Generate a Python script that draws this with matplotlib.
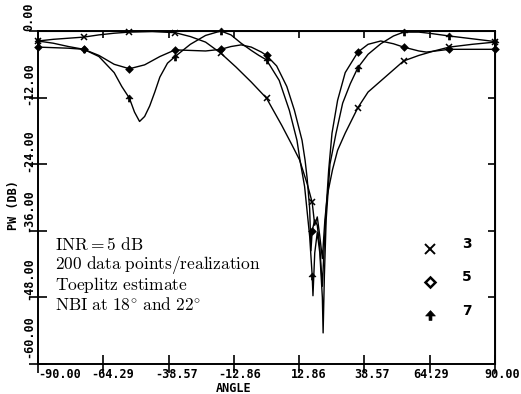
import numpy as np
import matplotlib
matplotlib.use("Agg")
import matplotlib.pyplot as plt
from matplotlib.path import Path

plt.rcParams['mathtext.fontset'] = 'cm'

# ---- data (angle in degrees, PW in dB) ----
ang3 = [-90, -84, -78, -72, -66, -60, -54, -45, -36, -30, -24, -18, -12, -6, 0,
        6, 10, 13, 16, 18, 19, 20, 21, 22, 23, 24, 26, 28, 31, 36, 40, 45, 50,
        54, 60, 66, 72, 81, 90]
pw3 = [-1.8, -1.5, -1.3, -1.1, -0.7, -0.4, -0.2, -0.1, -0.3, -1.0, -2.0, -4.0,
       -6.5, -9.2, -12.1, -17.0, -20.5, -23.2, -27.5, -30.9, -35.0, -33.5,
       -37.0, -41.0, -34.0, -29.5, -25.0, -21.5, -18.4, -13.8, -11.0, -9.0,
       -7.0, -5.4, -4.4, -3.6, -2.9, -2.4, -2.0]

ang5 = [-90, -84, -78, -72, -66, -60, -54, -48, -42, -36, -30, -24, -18, -14,
        -10, -6, -2, 0, 4, 8, 11, 14, 15.2, 16, 17, 17.5, 18, 19, 20, 21, 22,
        22.6, 23.5, 24.5, 25.8, 28, 31, 36, 40, 45, 50, 54, 60, 63, 72, 81, 90]
pw5 = [-2.9, -3.0, -3.1, -3.3, -4.4, -6.0, -6.8, -6.1, -4.6, -3.4, -3.5, -3.6,
       -3.3, -2.8, -2.5, -2.9, -3.8, -4.4, -6.3, -10.0, -14.3, -19.7, -23.3,
       -26.5, -32.0, -39.6, -36.0, -34.0, -35.0, -39.0, -46.0, -40.0, -32.0,
       -25.0, -18.4, -12.5, -7.5, -3.8, -2.4, -1.8, -2.3, -2.9, -3.6, -3.8,
       -3.3, -3.3, -3.3]

ang7 = [-90, -84, -78, -72, -66, -60, -57, -54, -52, -50, -48, -46, -44, -42,
        -39, -36, -30, -24, -18, -14, -10, -6, -3, 0, 5, 9, 12, 13.2, 15, 17,
        18, 18.3, 19, 20, 21, 22, 22.3, 22.8, 23.5, 25, 27.4, 30, 33, 36, 40,
        45, 50, 54, 60, 64, 72, 81, 90]
pw7 = [-1.8, -2.2, -2.8, -3.3, -4.6, -7.5, -10.0, -12.1, -14.6, -16.3, -15.4,
       -13.5, -11.0, -8.3, -5.8, -4.6, -2.4, -0.8, 0.0, -0.7, -2.2, -3.5, -4.4,
       -5.2, -8.9, -14.3, -19.7, -23.3, -28.0, -37.0, -44.1, -47.7, -40.0,
       -36.3, -40.0, -48.0, -54.4, -44.0, -34.0, -24.0, -18.4, -13.0, -9.5,
       -6.6, -4.2, -2.3, -0.9, -0.2, -0.2, -0.4, -0.9, -1.4, -1.9]

xticks = [-90.00, -64.29, -38.57, -12.86, 12.86, 38.57, 64.29, 90.00]
xtick_labels = ['-90.00', '-64.29', '-38.57', '-12.86', '12.86', '38.57', '64.29', '90.00']
yticks = [0, -12, -24, -36, -48, -60]
ytick_labels = ['0.00', '-12.00', '-24.00', '-36.00', '-48.00', '-60.00']

legend_names = ['3', '5', '7']
notes = [r'$\mathrm{INR} = 5\ \mathrm{dB}$',
         r'$\mathrm{200\ data\ points/realization}$',
         r'$\mathrm{Toeplitz\ estimate}$',
         r'$\mathrm{NBI\ at\ 18^{\circ}\ and\ 22^{\circ}}$']

# arrow-like filled marker for the "7" curve
arrow = Path([(0, 1), (1, -0.1), (0.3, -0.1), (0.3, -1), (-0.3, -1),
              (-0.3, -0.1), (-1, -0.1), (0, 1)],
             [Path.MOVETO] + [Path.LINETO] * 6 + [Path.CLOSEPOLY])

W, H = 521, 394
fig = plt.figure(figsize=(W / 100, H / 100), dpi=100)
ax = fig.add_axes([38 / W, 1 - 364 / H, (495 - 38) / W, (364 - 31) / H])

styles = [
    dict(marker='x', ms=5, mew=1.1, mfc='black'),
    dict(marker='D', ms=3.2, mew=1.2, mfc='black'),
    dict(marker=arrow, ms=5, mew=0.5, mfc='black'),
]
legend_styles = [
    dict(marker='x', ms=7, mew=1.4, mfc='black'),
    dict(marker='D', ms=5, mew=1.8, mfc='white'),
    dict(marker=arrow, ms=7, mew=0.5, mfc='black'),
]

for ang, pw, st in zip([ang3, ang5, ang7], [pw3, pw5, pw7], styles):
    a = np.array(ang)
    p = np.array(pw)
    ax.plot(a, p, color='black', lw=1.0, clip_on=False, zorder=3)
    sel = np.isclose(np.mod(a, 18), 0) | np.isclose(np.mod(a, 18), 18)
    ax.plot(a[sel], p[sel], ls='none', color='black', mec='black',
            clip_on=False, zorder=4, **st)

ax.set_xlim(-90, 90)
ax.set_ylim(-60, 0)
for s in ax.spines.values():
    s.set_linewidth(1.4)

ax.set_xticks(xticks)
ax.set_yticks(yticks)
ax.set_xticklabels([])
ax.set_yticklabels([])
ax.tick_params(direction='inout', length=13, width=1.2)

top = ax.secondary_xaxis('top')
top.set_xticks(xticks[1:-1])
top.set_xticklabels([])
top.tick_params(direction='in', length=5, width=1.2)
right = ax.secondary_yaxis('right')
right.set_yticks(yticks[1:-1])
right.set_yticklabels([])
right.tick_params(direction='in', length=5, width=1.2)

tick_font = dict(family='DejaVu Sans Mono', fontsize=8.5, fontweight='bold')
px = 0.72  # points per pixel at 100 dpi

x_shift = [0, 9, 8, 6, 10, 8, 1, 25]
x_align = ['left', 'center', 'center', 'center', 'center', 'center', 'center', 'right']
for xv, lab, dx, ha in zip(xticks, xtick_labels, x_shift, x_align):
    ax.annotate(lab, (xv, 0), xycoords=('data', 'axes fraction'),
                xytext=(dx * px, -10 * px), textcoords='offset points',
                ha=ha, va='center', **tick_font)

y_shift = [14, 14, 14, 20, 19, 27]
for yv, lab, dy in zip(yticks, ytick_labels, y_shift):
    ax.annotate(lab, (0, yv), xycoords=('axes fraction', 'data'),
                xytext=(-9 * px, dy * px), textcoords='offset points',
                ha='center', va='center', rotation=90, **tick_font)

fig.text(234 / W, 1 - 389 / H, 'ANGLE', ha='center', va='center', **tick_font)
fig.text(14 / W, 1 - 205 / H, 'PW (DB)', ha='center', va='center',
         rotation=90, **tick_font)

# notes block
for i, t in enumerate(notes):
    ax.text(-83.5, -38.6 - i * 3.6, t, fontsize=12.5, ha='left', va='center')

# legend
leg_y = [-39.2, -45.2, -51.2]
for st, name, yv in zip(legend_styles, legend_names, leg_y):
    ax.plot([64.29], [yv], ls='none', color='black', mec='black', **st)
    ax.text(79, yv + 0.8, name, ha='center', va='center',
            family='DejaVu Sans', fontsize=10, fontweight='bold')

fig.savefig('out.png', dpi=100)
